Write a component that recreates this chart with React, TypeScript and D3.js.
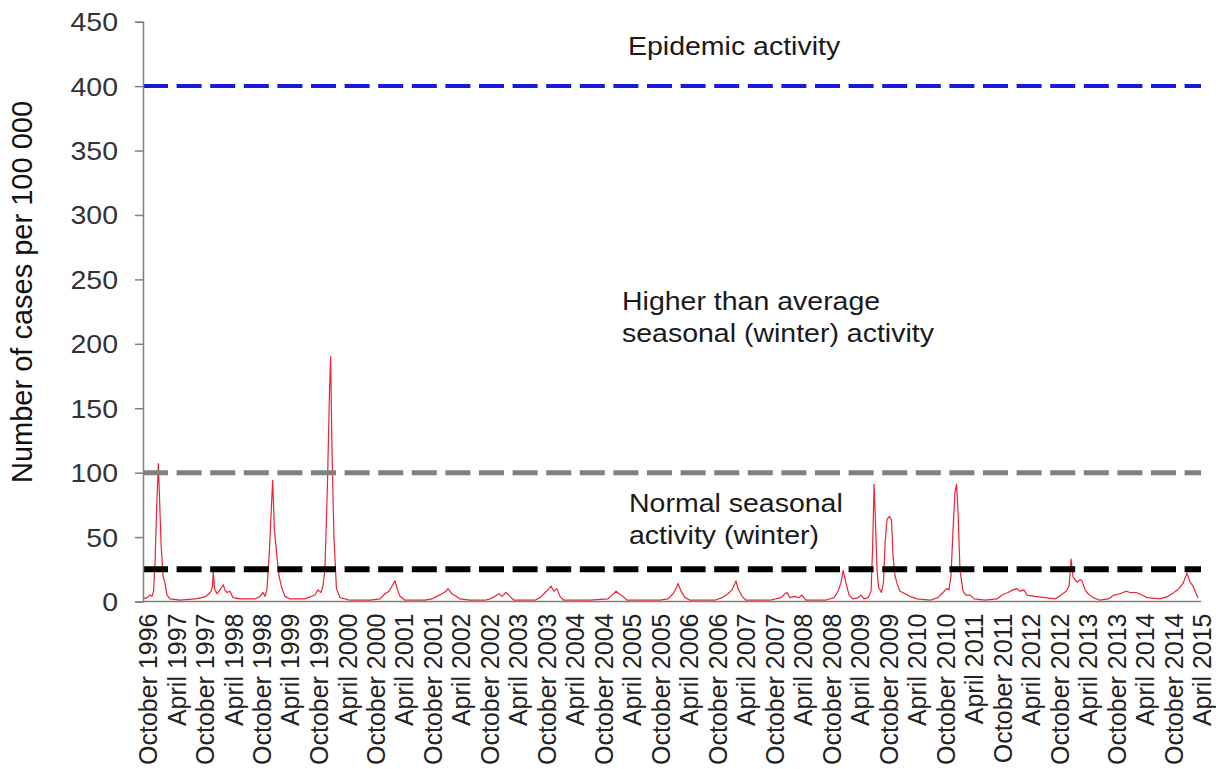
import React, { useEffect, useRef } from "react";
import * as d3 from "d3";

// weekly consultation rate as [decimal year, rate per 100 000]
const weeklyRates: [number, number][] = [
  [1996.750, 2], [1996.820, 3], [1996.873, 5], [1996.908, 4], [1996.934, 8], [1996.961, 30],
  [1996.987, 70], [1997.019, 107], [1997.040, 80], [1997.066, 45], [1997.101, 20], [1997.136, 14],
  [1997.171, 5], [1997.224, 2], [1997.399, 1], [1997.663, 2], [1997.786, 3], [1997.856, 4],
  [1997.908, 6], [1997.944, 8], [1997.970, 12], [1997.984, 23], [1998.005, 10], [1998.049, 6],
  [1998.101, 9], [1998.159, 13], [1998.189, 9], [1998.224, 7], [1998.277, 8], [1998.330, 3],
  [1998.452, 2], [1998.716, 2], [1998.803, 4], [1998.856, 7], [1998.891, 4], [1998.926, 9],
  [1998.970, 40], [1999.026, 94], [1999.058, 55], [1999.097, 37], [1999.137, 20], [1999.190, 10],
  [1999.242, 4], [1999.330, 2], [1999.593, 2], [1999.769, 5], [1999.821, 9], [1999.874, 7],
  [1999.909, 12], [1999.944, 25], [1999.988, 90], [2000.023, 160], [2000.044, 190], [2000.067, 120],
  [2000.102, 50], [2000.146, 10], [2000.208, 3], [2000.383, 1], [2000.734, 1], [2000.910, 2],
  [2000.997, 6], [2001.068, 8], [2001.120, 12], [2001.173, 16], [2001.208, 10], [2001.261, 4],
  [2001.348, 1], [2001.699, 1], [2001.822, 2], [2001.910, 4], [2001.998, 6], [2002.068, 8],
  [2002.103, 10], [2002.173, 6], [2002.244, 4], [2002.314, 2], [2002.489, 1], [2002.752, 1],
  [2002.840, 2], [2002.928, 4], [2002.998, 6], [2003.051, 4], [2003.121, 7], [2003.191, 4],
  [2003.261, 1], [2003.630, 1], [2003.718, 3], [2003.788, 6], [2003.858, 9], [2003.911, 12],
  [2003.963, 8], [2004.016, 10], [2004.069, 4], [2004.139, 1], [2004.595, 1], [2004.911, 2],
  [2004.981, 5], [2005.052, 8], [2005.104, 6], [2005.174, 4], [2005.245, 1], [2005.824, 1],
  [2005.964, 2], [2006.052, 6], [2006.105, 10], [2006.140, 14], [2006.192, 8], [2006.263, 3],
  [2006.350, 1], [2006.789, 1], [2006.912, 3], [2007.017, 6], [2007.088, 9], [2007.158, 16],
  [2007.193, 10], [2007.263, 4], [2007.333, 1], [2007.755, 1], [2007.948, 3], [2008.018, 6],
  [2008.053, 7], [2008.106, 3], [2008.193, 4], [2008.264, 3], [2008.316, 5], [2008.386, 1],
  [2008.720, 1], [2008.878, 3], [2008.948, 8], [2009.001, 15], [2009.036, 24], [2009.088, 14],
  [2009.141, 5], [2009.211, 2], [2009.299, 3], [2009.352, 5], [2009.404, 2], [2009.474, 3],
  [2009.527, 8], [2009.553, 40], [2009.580, 91], [2009.606, 60], [2009.632, 25], [2009.659, 11],
  [2009.711, 7], [2009.746, 15], [2009.773, 45], [2009.808, 64], [2009.852, 66], [2009.887, 63],
  [2009.913, 35], [2009.948, 20], [2009.983, 14], [2010.036, 8], [2010.124, 6], [2010.212, 4],
  [2010.334, 2], [2010.563, 1], [2010.703, 3], [2010.791, 7], [2010.856, 10], [2010.896, 9],
  [2010.931, 20], [2010.966, 55], [2011.001, 85], [2011.028, 91], [2011.054, 70], [2011.089, 24],
  [2011.142, 8], [2011.194, 5], [2011.265, 5], [2011.335, 2], [2011.528, 1], [2011.739, 2],
  [2011.826, 5], [2011.932, 7], [2012.019, 9], [2012.090, 10], [2012.142, 8], [2012.212, 9],
  [2012.265, 5], [2012.406, 4], [2012.581, 3], [2012.757, 2], [2012.862, 5], [2012.950, 8],
  [2013.002, 12], [2013.037, 33], [2013.072, 19], [2013.143, 15], [2013.195, 17], [2013.230, 16],
  [2013.283, 9], [2013.336, 6], [2013.423, 3], [2013.546, 1], [2013.687, 2], [2013.792, 5],
  [2013.897, 6], [2014.003, 8], [2014.073, 7], [2014.178, 7], [2014.283, 5], [2014.371, 3],
  [2014.599, 2], [2014.740, 4], [2014.845, 7], [2014.933, 10], [2015.003, 14], [2015.073, 22],
  [2015.126, 15], [2015.179, 12], [2015.214, 8], [2015.266, 3],
];

const thresholds = [25, 100, 400];
const yTicks = [0, 50, 100, 150, 200, 250, 300, 350, 400, 450];
const xTickLabels = [
  "October 1996", "April 1997", "October 1997", "April 1998", "October 1998", "April 1999",
  "October 1999", "April 2000", "October 2000", "April 2001", "October 2001", "April 2002",
  "October 2002", "April 2003", "October 2003", "April 2004", "October 2004", "April 2005",
  "October 2005", "April 2006", "October 2006", "April 2007", "October 2007", "April 2008",
  "October 2008", "April 2009", "October 2009", "April 2010", "October 2010", "April 2011",
  "October 2011", "April 2012", "October 2012", "April 2013", "October 2013", "April 2014",
  "October 2014", "April 2015",
];
const epidemicText = ["Epidemic activity"];
const higherText = ["Higher than average", "seasonal (winter) activity"];
const normalText = ["Normal seasonal", "activity (winter)"];
const yTitle = "Number of cases per 100 000";

const W = 1216, H = 769;
const FONT = "'Liberation Sans', Arial, sans-serif";

function yearToDate(t: number) {
  const y = Math.floor(t);
  const a = new Date(y, 0, 1).getTime();
  const b = new Date(y + 1, 0, 1).getTime();
  return new Date(a + (t - y) * (b - a));
}

export default function App() {
  const ref = useRef<SVGSVGElement>(null);

  useEffect(() => {
    const svg = d3.select(ref.current);
    svg.selectAll("*").remove();

    const left = 143, right = 1198, top = 21.7, bottom = 601.5;

    const x = d3.scaleTime()
      .domain([yearToDate(weeklyRates[0][0]), yearToDate(weeklyRates[weeklyRates.length - 1][0])])
      .range([left, right]);
    const y = d3.scaleLinear().domain([0, 450]).range([bottom, top]);

    // red series
    const line = d3.line<[number, number]>()
      .x(d => x(yearToDate(d[0])))
      .y(d => y(d[1]));
    svg.append("path")
      .datum(weeklyRates)
      .attr("d", line)
      .attr("fill", "none")
      .attr("stroke", "#ee2233")
      .attr("stroke-width", 1.2)
      .attr("stroke-linejoin", "round");

    // thresholds
    const thrColor = ["#000000", "#808080", "#1a1ad6"];
    const thrWidth = [6, 5, 4];
    svg.append("g").selectAll("line")
      .data(thresholds)
      .enter()
      .append("line")
      .attr("x1", left)
      .attr("x2", 1201)
      .attr("y1", d => y(d))
      .attr("y2", d => y(d))
      .attr("stroke", (d, i) => thrColor[i])
      .attr("stroke-width", (d, i) => thrWidth[i])
      .attr("stroke-dasharray", "25 8.6");

    // y axis
    const yAxis = svg.append("g")
      .attr("transform", "translate(" + left + ",0)")
      .call(d3.axisLeft(y).tickValues(yTicks).tickSize(8).tickPadding(14));
    yAxis.select(".domain").attr("stroke", "#808080").attr("stroke-width", 1.5);
    yAxis.selectAll(".tick line").attr("stroke", "#808080").attr("stroke-width", 1.5);
    yAxis.selectAll(".tick text")
      .attr("font-family", FONT)
      .attr("font-size", 25)
      .attr("fill", "#333")
      .attr("x", -25 / 1.14)
      .attr("dy", "0.36em")
      .attr("transform", "scale(1.14,1)");

    // x axis
    const parse = d3.timeParse("%B %Y");
    const tickDates = xTickLabels.map(s => parse(s) as Date);
    const xAxis = svg.append("g")
      .attr("transform", "translate(0," + bottom + ")")
      .call(d3.axisBottom(x).tickValues(tickDates).tickSize(0).tickSizeOuter(0)
        .tickFormat((d, i) => xTickLabels[i]));
    xAxis.select(".domain").attr("stroke", "#808080").attr("stroke-width", 1.5)
      .attr("d", "M" + left + ",0H1201");
    xAxis.selectAll(".tick text")
      .attr("font-family", FONT)
      .attr("font-size", 25)
      .attr("fill", "#222")
      .attr("x", 0)
      .attr("y", 0)
      .attr("dy", "0.35em")
      .attr("text-anchor", "end")
      .attr("transform", "translate(5,12) rotate(-90)");

    // y title
    svg.append("text")
      .attr("transform", "translate(32,292) rotate(-90)")
      .attr("text-anchor", "middle")
      .attr("font-family", FONT)
      .attr("font-size", 29)
      .attr("fill", "#111")
      .text(yTitle);

    // annotations
    const notes = [
      { lines: epidemicText, x: 628, y: 55 },
      { lines: higherText, x: 622, y: 310 },
      { lines: normalText, x: 629, y: 512 },
    ];
    notes.forEach(n => {
      n.lines.forEach((t, i) => {
        svg.append("text")
          .attr("transform", "translate(" + n.x + "," + (n.y + i * 32) + ") scale(1.14,1)")
          .attr("font-family", FONT)
          .attr("font-size", 25)
          .attr("fill", "#1a1a1a")
          .text(t);
      });
    });
  }, []);

  return (
    <svg ref={ref} width={W} height={H}
      style={{ position: "absolute", left: 0, top: 0, background: "#fff" }} />
  );
}
